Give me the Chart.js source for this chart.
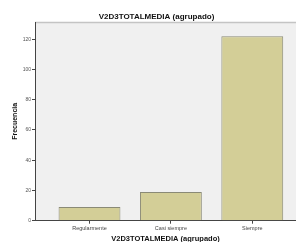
<!DOCTYPE html>
<html>
<head>
<meta charset="utf-8">
<script src="https://cdn.jsdelivr.net/npm/chart.js@4"></script>
<style>
  html, body { margin: 0; padding: 0; background: #fff; }
  #wrap { width: 296px; height: 242px; }
</style>
</head>
<body>
<div id="wrap"><canvas id="chart"></canvas></div>
<script>
// data
var categories = ['Regularmente', 'Casi siempre', 'Siempre'];
var frecuencias = [9, 19, 122];
var yTicks = [0, 20, 40, 60, 80, 100, 120];

// grey plot panel behind the bars, like SPSS
var panel = {
    id: 'panel',
    beforeDraw: function(chart) {
        var a = chart.chartArea, ctx = chart.ctx;
        ctx.save();
        ctx.fillStyle = '#f0f0f0';
        ctx.fillRect(a.left, a.top, a.right - a.left, a.bottom - a.top);
        ctx.strokeStyle = '#c4c4c4';
        ctx.lineWidth = 1.5;
        ctx.beginPath();
        ctx.moveTo(a.left, a.top + 0.5);
        ctx.lineTo(a.right, a.top + 0.5);
        ctx.stroke();
        ctx.restore();
    }
};

var ctx = document.getElementById('chart').getContext('2d');
new Chart(ctx, {
    type: 'bar',
    data: {
        datasets: [{
            data: frecuencias.map(function(v, i) { return {x: i, y: v}; }),
            backgroundColor: '#d3ce97',
            borderColor: '#8a8a76',
            borderWidth: 1,
            categoryPercentage: 1,
            barPercentage: 0.76
        }]
    },
    options: {
        responsive: true,
        maintainAspectRatio: false,
        animation: false,
        layout: {padding: {left: 17, right: 0, top: 0, bottom: 0}},
        plugins: {
            legend: {display: false},
            tooltip: {enabled: false},
            title: {
                display: true,
                text: 'V2D3TOTALMEDIA (agrupado)',
                color: '#111',
                font: {family: 'Liberation Sans', size: 8, weight: 'bold'},
                padding: {top: 11.5, bottom: 0.9}
            }
        },
        scales: {
            x: {
                type: 'linear',
                offset: false,
                min: -0.6695,
                max: 2.537,
                afterBuildTicks: function(s) {
                    s.ticks = categories.map(function(c, i) { return {value: i}; });
                },
                afterFit: function(s) { s.height = 21.3; },
                grid: {offset: false, drawOnChartArea: false, tickLength: 3, color: '#444'},
                border: {color: '#444', width: 1},
                ticks: {
                    autoSkip: false,
                    maxRotation: 0,
                    padding: 1.5,
                    color: '#444',
                    font: {family: 'Liberation Sans', size: 5.5},
                    callback: function(v) { return categories[v]; }
                },
                title: {
                    display: true,
                    text: 'V2D3TOTALMEDIA (agrupado)',
                    color: '#111',
                    font: {family: 'Liberation Sans', size: 7.5, weight: 'bold'},
                    padding: {top: 0, bottom: -1.5}
                }
            },
            y: {
                min: 0,
                max: 131.4,
                afterBuildTicks: function(s) {
                    s.ticks = yTicks.map(function(v) { return {value: v}; });
                },
                afterFit: function(s) { s.width = 18; },
                grid: {drawOnChartArea: false, tickLength: 3, color: '#444'},
                border: {color: '#444', width: 1},
                ticks: {
                    padding: 1,
                    color: '#555',
                    font: {family: 'Liberation Sans', size: 5}
                },
                title: {
                    display: true,
                    text: 'Frecuencia',
                    color: '#111',
                    font: {family: 'Liberation Sans', size: 7, weight: 'bold'},
                    padding: {top: -6.2, bottom: 0}
                }
            }
        }
    },
    plugins: [panel]
});
</script>
</body>
</html>
